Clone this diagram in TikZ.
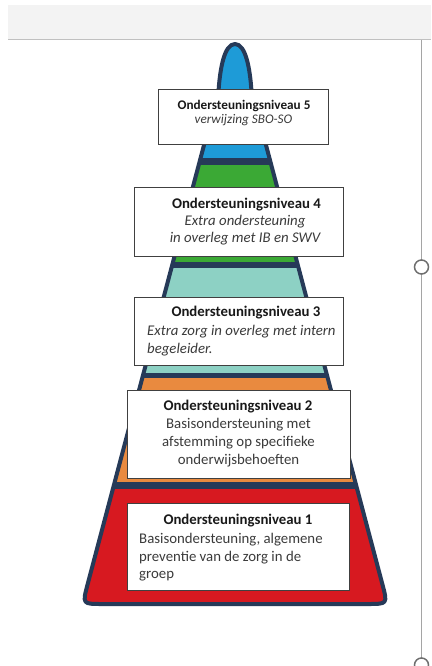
\documentclass[tikz,border=0pt]{standalone}
\usepackage{fontspec}
\setmainfont{Carlito}
\definecolor{navy}{RGB}{38,58,88}
\definecolor{lvlblue}{RGB}{30,155,215}
\definecolor{lvlgreen}{RGB}{59,169,53}
\definecolor{lvlteal}{RGB}{141,209,196}
\definecolor{lvlorange}{RGB}{233,138,63}
\definecolor{lvlred}{RGB}{215,25,32}
\definecolor{topgray}{RGB}{243,243,243}
\definecolor{rulegray}{RGB}{165,165,165}
\definecolor{handlegray}{RGB}{110,110,110}
\definecolor{txt}{RGB}{25,25,25}
\begin{document}
\begin{tikzpicture}[x=1pt,y=-1pt,
  box/.style={draw=black!75, line width=1pt, fill=white, inner sep=0pt},
  head/.style={font=\fontsize{14.8}{16.7}\selectfont\bfseries, text=txt, anchor=base, inner sep=0pt},
  body/.style={font=\fontsize{14.8}{16.7}\selectfont, text=txt!85, anchor=base, inner sep=0pt},
  bodyit/.style={font=\fontsize{14.8}{16.7}\selectfont\itshape, text=txt!85, anchor=base, inner sep=0pt},
  headsm/.style={font=\fontsize{13.2}{14.7}\selectfont\bfseries, text=txt, anchor=base, inner sep=0pt},
  bodysm/.style={font=\fontsize{13.2}{14.7}\selectfont\itshape, text=txt!85, anchor=base, inner sep=0pt},
  handle/.style={circle, draw=handlegray, line width=1.5pt, fill=white, minimum size=14pt, inner sep=0pt}]
\useasboundingbox (0,0) rectangle (431,666);
\fill[white] (0,0) rectangle (431,666);
% top band (window chrome)
\fill[topgray] (8,5) rectangle (431,40);
\draw[rulegray!70, line width=1pt] (8,40) -- (431,40);
% side rule with handles
\coordinate (rtop) at (421.5,40);
\coordinate (rbot) at (421.5,666);
\draw[rulegray, line width=1.2pt] (rtop) -- (rbot);
\node[handle] (h1) at (421.5,267) {};
\node[handle] (h2) at (421.5,665) {};
% pyramid
\def\pyr{(235,44) .. controls (224,44) and (220,70) .. (218.6,90)
  -- (87.5,584.7) .. controls (82.4,604) and (82.4,604) .. (102.4,604)
  -- (367.6,604) .. controls (387.6,604) and (387.6,604) .. (382.5,584.7)
  -- (251.4,90) .. controls (250,70) and (246,44) .. (235,44) -- cycle}
\begin{scope}
  \clip \pyr;
  \fill[lvlblue] (60,30) rectangle (410,158);
  \fill[navy] (60,158) rectangle (410,165);
  \fill[lvlgreen] (60,165) rectangle (410,262);
  \fill[navy] (60,262) rectangle (410,268);
  \fill[lvlteal] (60,268) rectangle (410,373);
  \fill[navy] (60,373) rectangle (410,378);
  \fill[lvlorange] (60,378) rectangle (410,482);
  \fill[navy] (60,482) rectangle (410,489);
  \fill[lvlred] (60,489) rectangle (410,620);
\end{scope}
\draw[navy, line width=4pt, line join=round] \pyr;
% boxes
\node[box, minimum width=170pt, minimum height=54pt] (b5) at (243,117) {};
\node[box, minimum width=209pt, minimum height=69pt] (b4) at (238.5,221.5) {};
\node[box, minimum width=209pt, minimum height=68pt] (b3) at (238.5,331) {};
\node[box, minimum width=223pt, minimum height=88pt] (b2) at (238.5,434) {};
\node[box, minimum width=222pt, minimum height=87pt] (b1) at (238,546.5) {};
% level 5
\node[headsm] (t5a) at (244,109.5) {Ondersteuningsniveau 5};
\node[bodysm] (t5b) at (243.5,124) {verwijzing SBO-SO};
% level 4
\node[head] (t4a) at (246.5,208.5) {Ondersteuningsniveau 4};
\node[bodyit] (t4b) at (245,225.5) {Extra ondersteuning};
\node[bodyit] (t4c) at (245,242.5) {in overleg met IB en SWV};
% level 3
\node[head] (t3a) at (246,316.5) {Ondersteuningsniveau 3};
\node[bodyit, anchor=base west] (t3b) at (147,335.5) {Extra zorg in overleg met intern};
\node[bodyit, anchor=base west] (t3c) at (147,353.5) {begeleider.};
% level 2
\node[head] (t2a) at (238,410.5) {Ondersteuningsniveau 2};
\node[body] (t2b) at (238.5,428.5) {Basisondersteuning met};
\node[body] (t2c) at (238.5,446.5) {afstemming op specifieke};
\node[body] (t2d) at (238.5,464.5) {onderwijsbehoeften};
% level 1
\node[head] (t1a) at (238,524) {Ondersteuningsniveau 1};
\node[body, anchor=base west] (t1b) at (139,543) {Basisondersteuning, algemene};
\node[body, anchor=base west] (t1c) at (139,561) {preventie van de zorg in de};
\node[body, anchor=base west] (t1d) at (139,578) {groep};
\end{tikzpicture}
\end{document}
